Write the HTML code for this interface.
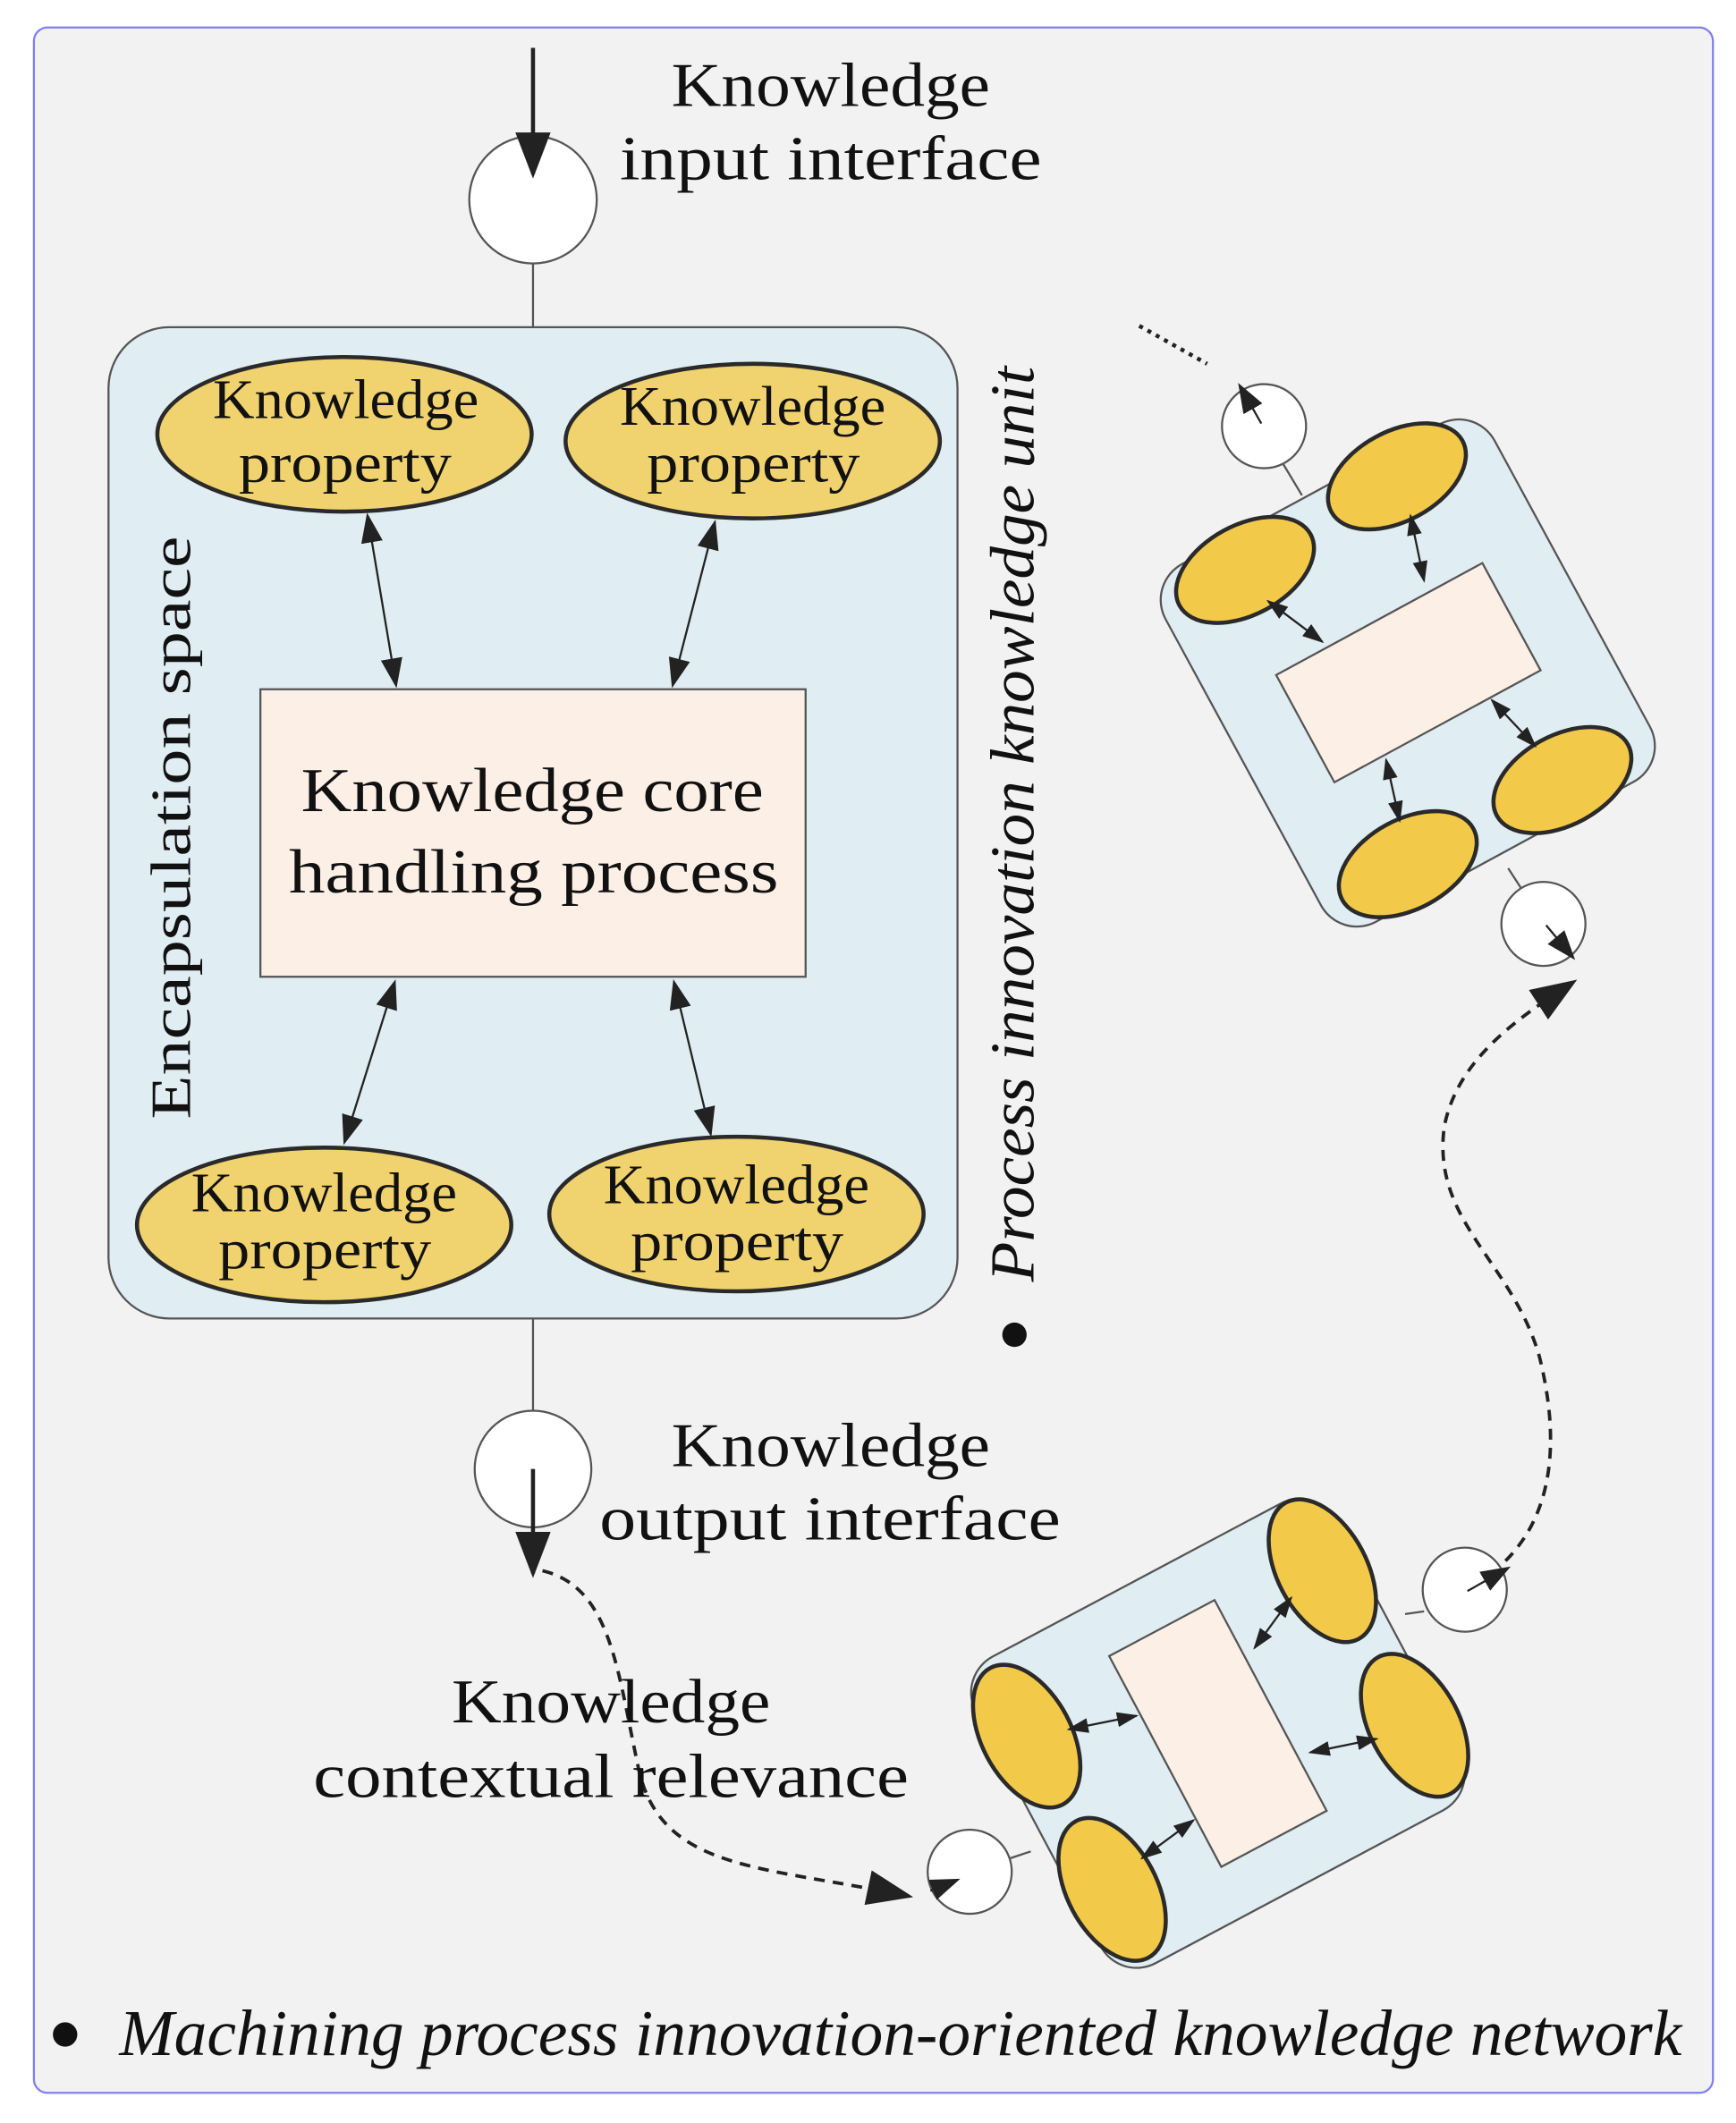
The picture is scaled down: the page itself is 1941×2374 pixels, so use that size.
<!DOCTYPE html>
<html><head><meta charset="utf-8"><style>
html,body{margin:0;padding:0;background:#fff}
svg{display:block}
text{font-family:"Liberation Serif",serif;fill:#111}
</style></head><body>
<svg width="1941" height="2374" viewBox="0 0 1280 1565" xmlns="http://www.w3.org/2000/svg">
<defs>
<marker id="ah" viewBox="0 0 10 10" refX="9" refY="5" markerUnits="userSpaceOnUse" markerWidth="22" markerHeight="16" orient="auto-start-reverse" preserveAspectRatio="none"><path d="M0,0 L10,5 L0,10 z" fill="#222"/></marker>
<marker id="ab" viewBox="0 0 10 10" refX="9" refY="5" markerUnits="userSpaceOnUse" markerWidth="34" markerHeight="26" orient="auto-start-reverse" preserveAspectRatio="none"><path d="M0,0 L10,5 L0,10 z" fill="#222"/></marker>
<marker id="as" viewBox="0 0 10 10" refX="9" refY="5" markerUnits="userSpaceOnUse" markerWidth="16" markerHeight="11" orient="auto-start-reverse" preserveAspectRatio="none"><path d="M0,0 L10,5 L0,10 z" fill="#222"/></marker>
</defs>
<rect x="0" y="0" width="1280" height="1565" fill="#fff"/>
<rect x="25" y="20" width="1238" height="1523" rx="10" fill="#f2f2f2" stroke="#8080f0" stroke-width="1.5"/>

<line x1="393" y1="194" x2="393" y2="241" stroke="#555" stroke-width="1.5"/>
<circle cx="393" cy="147" r="47" fill="#fff" stroke="#555" stroke-width="1.5"/>
<line x1="393" y1="35" x2="393" y2="128" stroke="#222" stroke-width="3" marker-end="url(#ab)"/>
<text x="495" y="78" font-size="46" textLength="235" lengthAdjust="spacingAndGlyphs">Knowledge</text>
<text x="457" y="132" font-size="46" textLength="311" lengthAdjust="spacingAndGlyphs">input interface</text>

<rect x="80" y="241" width="626" height="731" rx="45" fill="#e0edf2" stroke="#555" stroke-width="1.5"/>
<rect x="192" y="508" width="402" height="212" fill="#fcefe6" stroke="#555" stroke-width="1.5"/>
<text x="222" y="598" font-size="46" textLength="341" lengthAdjust="spacingAndGlyphs">Knowledge core</text>
<text x="213" y="658" font-size="46" textLength="361" lengthAdjust="spacingAndGlyphs">handling process</text>
<g fill="#f0d36f" stroke="#2a2a2a" stroke-width="3">
<ellipse cx="254" cy="320" rx="138" ry="57"/>
<ellipse cx="555" cy="325" rx="138" ry="57"/>
<ellipse cx="239" cy="903" rx="138" ry="57"/>
<ellipse cx="543" cy="895" rx="138" ry="57"/>
</g>
<g font-size="41">
<text x="157" y="308" textLength="196" lengthAdjust="spacingAndGlyphs">Knowledge</text><text x="176" y="355" textLength="157" lengthAdjust="spacingAndGlyphs">property</text>
<text x="457" y="313" textLength="196" lengthAdjust="spacingAndGlyphs">Knowledge</text><text x="477" y="355" textLength="157" lengthAdjust="spacingAndGlyphs">property</text>
<text x="141" y="893" textLength="196" lengthAdjust="spacingAndGlyphs">Knowledge</text><text x="161" y="935" textLength="157" lengthAdjust="spacingAndGlyphs">property</text>
<text x="445" y="887" textLength="196" lengthAdjust="spacingAndGlyphs">Knowledge</text><text x="465" y="929" textLength="157" lengthAdjust="spacingAndGlyphs">property</text>
</g>
<g stroke="#222" stroke-width="1.5" marker-start="url(#ah)" marker-end="url(#ah)">
<line x1="271" y1="380" x2="292" y2="505"/>
<line x1="527" y1="385" x2="496" y2="505"/>
<line x1="291" y1="724" x2="254" y2="842"/>
<line x1="497" y1="724" x2="524" y2="836"/>
</g>
<text transform="translate(140,825) rotate(-90)" font-size="42" textLength="430" lengthAdjust="spacingAndGlyphs">Encapsulation space</text>
<text transform="translate(762,945) rotate(-90)" font-size="46" font-style="italic" textLength="675" lengthAdjust="spacingAndGlyphs">Process innovation knowledge unit</text>
<circle cx="748" cy="984" r="9" fill="#111"/>

<line x1="393" y1="972" x2="393" y2="1040" stroke="#555" stroke-width="1.5"/>
<circle cx="393" cy="1083" r="43" fill="#fff" stroke="#555" stroke-width="1.5"/>
<line x1="393" y1="1083" x2="393" y2="1160" stroke="#222" stroke-width="3" marker-end="url(#ab)"/>
<text x="495" y="1081" font-size="46" textLength="235" lengthAdjust="spacingAndGlyphs">Knowledge</text>
<text x="442" y="1135" font-size="46" textLength="340" lengthAdjust="spacingAndGlyphs">output interface</text>

<path d="M400,1158 C450,1170 455,1230 470,1300 C485,1380 560,1375 670,1398" fill="none" stroke="#222" stroke-width="2.5" stroke-dasharray="8,6" marker-end="url(#ab)"/>
<text x="333" y="1270" font-size="46" textLength="235" lengthAdjust="spacingAndGlyphs">Knowledge</text>
<text x="231" y="1325" font-size="46" textLength="439" lengthAdjust="spacingAndGlyphs">contextual relevance</text>

<line x1="840" y1="240" x2="890" y2="268" stroke="#222" stroke-width="3" stroke-dasharray="3,4"/>
<line x1="945" y1="340" x2="960" y2="365" stroke="#555" stroke-width="1.5"/>
<line x1="1112" y1="640" x2="1125" y2="660" stroke="#555" stroke-width="1.5"/>
<g transform="translate(1038,496) rotate(-28.5)">
<rect x="-138" y="-150" width="276" height="300" rx="30" fill="#e0edf2" stroke="#555" stroke-width="1.5"/>
<rect x="-86" y="-45" width="173" height="90" fill="#fcefe6" stroke="#555" stroke-width="1.5"/>
</g>
<g fill="#f3c94a" stroke="#2a2a2a" stroke-width="3">
<ellipse cx="918" cy="420" rx="55" ry="33" transform="rotate(-28.5 918 420)"/>
<ellipse cx="1030" cy="351" rx="55" ry="33" transform="rotate(-28.5 1030 351)"/>
<ellipse cx="1152" cy="575" rx="55" ry="33" transform="rotate(-28.5 1152 575)"/>
<ellipse cx="1038" cy="637" rx="55" ry="33" transform="rotate(-28.5 1038 637)"/>
</g>
<g stroke="#222" stroke-width="1.5" marker-start="url(#as)" marker-end="url(#as)">
<line x1="935" y1="443" x2="975" y2="473"/>
<line x1="1040" y1="380" x2="1050" y2="428"/>
<line x1="1100" y1="516" x2="1132" y2="550"/>
<line x1="1022" y1="560" x2="1032" y2="605"/>
</g>
<circle cx="932" cy="314" r="31" fill="#fff" stroke="#555" stroke-width="1.5"/>
<line x1="930" y1="312" x2="914" y2="284" stroke="#222" stroke-width="1.5" marker-end="url(#ah)"/>
<circle cx="1138" cy="681" r="31" fill="#fff" stroke="#555" stroke-width="1.5"/>
<line x1="1140" y1="682" x2="1160" y2="706" stroke="#222" stroke-width="1.5" marker-end="url(#ah)"/>

<path d="M1088,1168 C1150,1130 1150,1060 1135,1000 C1115,930 1055,900 1065,830 C1075,780 1120,750 1160,724" fill="none" stroke="#222" stroke-width="2.5" stroke-dasharray="8,6" marker-end="url(#ab)"/>

<line x1="1036" y1="1190" x2="1050" y2="1188" stroke="#555" stroke-width="1.5"/>
<line x1="745" y1="1370" x2="760" y2="1365" stroke="#555" stroke-width="1.5"/>
<g transform="translate(898,1278) rotate(-28)">
<rect x="-150" y="-128" width="300" height="256" rx="30" fill="#e0edf2" stroke="#555" stroke-width="1.5"/>
<rect x="-44" y="-88" width="88" height="176" fill="#fcefe6" stroke="#555" stroke-width="1.5"/>
</g>
<g fill="#f3c94a" stroke="#2a2a2a" stroke-width="3">
<ellipse cx="757" cy="1280" rx="33" ry="57" transform="rotate(-28 757 1280)"/>
<ellipse cx="975" cy="1158" rx="33" ry="57" transform="rotate(-28 975 1158)"/>
<ellipse cx="1043" cy="1272" rx="33" ry="57" transform="rotate(-28 1043 1272)"/>
<ellipse cx="820" cy="1393" rx="33" ry="57" transform="rotate(-28 820 1393)"/>
</g>
<g stroke="#222" stroke-width="1.5" marker-start="url(#as)" marker-end="url(#as)">
<line x1="788" y1="1275" x2="838" y2="1265"/>
<line x1="925" y1="1215" x2="952" y2="1178"/>
<line x1="966" y1="1292" x2="1015" y2="1282"/>
<line x1="842" y1="1370" x2="880" y2="1342"/>
</g>
<circle cx="1080" cy="1172" r="31" fill="#fff" stroke="#555" stroke-width="1.5"/>
<line x1="1082" y1="1173" x2="1112" y2="1156" stroke="#222" stroke-width="1.5" marker-end="url(#ah)"/>
<circle cx="715" cy="1380" r="31" fill="#fff" stroke="#555" stroke-width="1.5"/>
<line x1="686" y1="1394" x2="706" y2="1386" stroke="#222" stroke-width="1.5" marker-end="url(#ah)"/>

<circle cx="48" cy="1500" r="9" fill="#111"/>
<text x="88" y="1515" font-size="48" font-style="italic" textLength="1152" lengthAdjust="spacingAndGlyphs">Machining process innovation-oriented knowledge network</text>
</svg>
</body></html>
